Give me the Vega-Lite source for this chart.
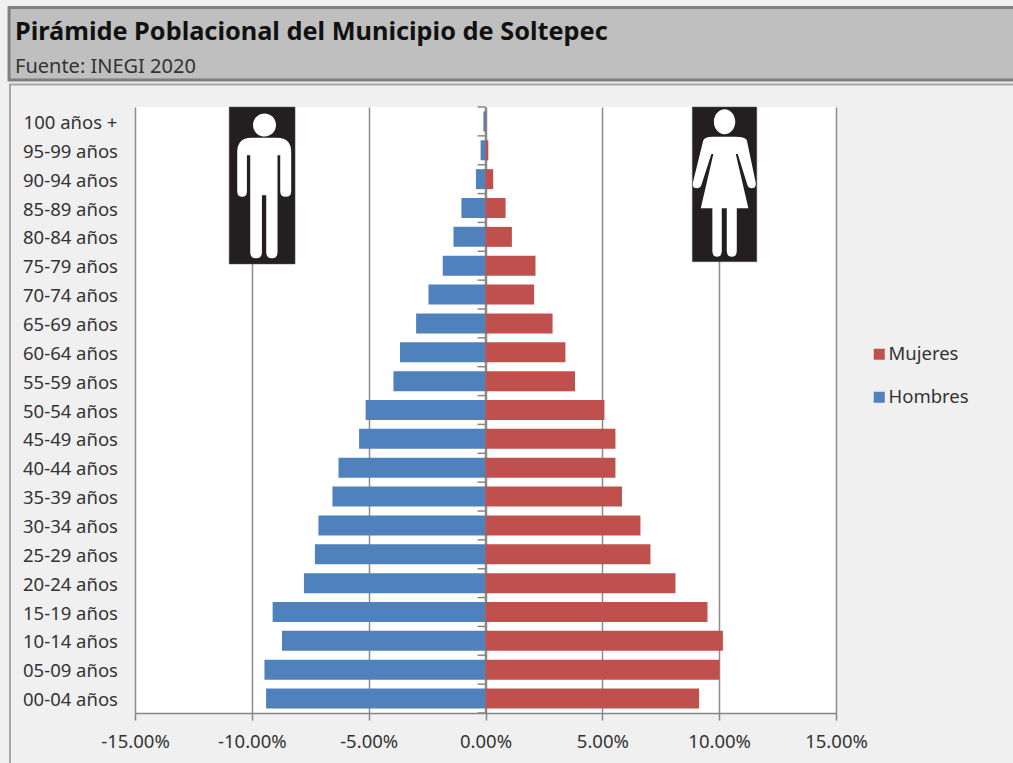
{
"$schema":"https://vega.github.io/schema/vega-lite/v6.json",
"autosize":{"type":"none"},
"padding":{"left":135,"top":107,"right":177,"bottom":50},
"width":701,"height":606,
"background":"#f0f0f0",
"view":{"fill":"#ffffff","stroke":null},
"title":{"text":"Pirámide Poblacional del Municipio de Soltepec","subtitle":"Fuente: INEGI 2020","anchor":"start","frame":"group","dx":-120,"offset":-71,"font":"Noto Sans","fontWeight":"bold","fontSize":25.3,"color":"#111111","subtitleFont":"Noto Sans","subtitleFontSize":20,"subtitleColor":"#333333","subtitlePadding":12},
"datasets":{
"pop":[
{"edad":"100 años +","sexo":"Hombres","valor":-0.0009},{"edad":"100 años +","sexo":"Mujeres","valor":0.0003},
{"edad":"95-99 años","sexo":"Hombres","valor":-0.0021},{"edad":"95-99 años","sexo":"Mujeres","valor":0.0012},
{"edad":"90-94 años","sexo":"Hombres","valor":-0.0041},{"edad":"90-94 años","sexo":"Mujeres","valor":0.0033},
{"edad":"85-89 años","sexo":"Hombres","valor":-0.0103},{"edad":"85-89 años","sexo":"Mujeres","valor":0.0086},
{"edad":"80-84 años","sexo":"Hombres","valor":-0.0137},{"edad":"80-84 años","sexo":"Mujeres","valor":0.0113},
{"edad":"75-79 años","sexo":"Hombres","valor":-0.0183},{"edad":"75-79 años","sexo":"Mujeres","valor":0.0214},
{"edad":"70-74 años","sexo":"Hombres","valor":-0.0244},{"edad":"70-74 años","sexo":"Mujeres","valor":0.0208},
{"edad":"65-69 años","sexo":"Hombres","valor":-0.0297},{"edad":"65-69 años","sexo":"Mujeres","valor":0.0287},
{"edad":"60-64 años","sexo":"Hombres","valor":-0.0366},{"edad":"60-64 años","sexo":"Mujeres","valor":0.0342},
{"edad":"55-59 años","sexo":"Hombres","valor":-0.0394},{"edad":"55-59 años","sexo":"Mujeres","valor":0.0383},
{"edad":"50-54 años","sexo":"Hombres","valor":-0.0513},{"edad":"50-54 años","sexo":"Mujeres","valor":0.0509},
{"edad":"45-49 años","sexo":"Hombres","valor":-0.0541},{"edad":"45-49 años","sexo":"Mujeres","valor":0.0556},
{"edad":"40-44 años","sexo":"Hombres","valor":-0.0629},{"edad":"40-44 años","sexo":"Mujeres","valor":0.0556},
{"edad":"35-39 años","sexo":"Hombres","valor":-0.0655},{"edad":"35-39 años","sexo":"Mujeres","valor":0.0584},
{"edad":"30-34 años","sexo":"Hombres","valor":-0.0715},{"edad":"30-34 años","sexo":"Mujeres","valor":0.0663},
{"edad":"25-29 años","sexo":"Hombres","valor":-0.073},{"edad":"25-29 años","sexo":"Mujeres","valor":0.0706},
{"edad":"20-24 años","sexo":"Hombres","valor":-0.0777},{"edad":"20-24 años","sexo":"Mujeres","valor":0.0813},
{"edad":"15-19 años","sexo":"Hombres","valor":-0.0911},{"edad":"15-19 años","sexo":"Mujeres","valor":0.095},
{"edad":"10-14 años","sexo":"Hombres","valor":-0.0871},{"edad":"10-14 años","sexo":"Mujeres","valor":0.1016},
{"edad":"05-09 años","sexo":"Hombres","valor":-0.0946},{"edad":"05-09 años","sexo":"Mujeres","valor":0.1001},
{"edad":"00-04 años","sexo":"Hombres","valor":-0.0939},{"edad":"00-04 años","sexo":"Mujeres","valor":0.0914}
],
"marcos":[
{"nombre":"banner","x0":-0.2039,"x1":0.2264,"y0":-3.448,"y1":-0.936}
],
"panel":[{"x0":-0.2035,"x1":0.23,"y0":-0.78,"y1":22.97}],
"iconos":[
{"nombre":"hombre","x0":-0.1097,"x1":-0.0815,"y0":0,"y1":5.44},
{"nombre":"mujer","x0":0.0885,"x1":0.1161,"y0":0,"y1":5.36}
],
"eje":[{"x":0,"y0":0,"y1":21}],
"marcas":[{"y":0},{"y":1},{"y":2},{"y":3},{"y":4},{"y":5},{"y":6},{"y":7},{"y":8},{"y":9},{"y":10},{"y":11},{"y":12},{"y":13},{"y":14},{"y":15},{"y":16},{"y":17},{"y":18},{"y":19},{"y":20},{"y":21}]
},
"resolve":{"scale":{"y":"independent"}},
"layer":[
{"data":{"name":"marcos"},"mark":{"type":"rect","fill":"#bfbfbf","stroke":"#7f7f7f","strokeWidth":3,"clip":false},
 "encoding":{"x":{"field":"x0","type":"quantitative","scale":{"domain":[-0.15,0.15],"nice":false},
   "axis":{"title":null,"values":[-0.15,-0.1,-0.05,0,0.05,0.1,0.15],"format":".2%","labelExpr":"replace(datum.label, '−', '-')","grid":true,"gridColor":"#8c8c8c","gridWidth":1.5,"domainColor":"#868686","domainWidth":1.5,"tickColor":"#868686","tickWidth":1.5,"tickSize":7,"labelPadding":12,"labelFont":"Noto Sans","labelFontSize":18.5,"labelColor":"#333333","labelFlush":false}},
  "x2":{"field":"x1"},"y":{"field":"y0","type":"quantitative","scale":{"domain":[0,21],"reverse":true,"nice":false,"zero":false},"axis":null},"y2":{"field":"y1"}}},
{"data":{"name":"panel"},"mark":{"type":"rect","filled":false,"stroke":"#a6a6a6","strokeWidth":2,"clip":false},
 "encoding":{"x":{"field":"x0","type":"quantitative","title":null},"x2":{"field":"x1"},"y":{"field":"y0","type":"quantitative","scale":{"domain":[0,21],"reverse":true,"nice":false,"zero":false},"axis":null},"y2":{"field":"y1"}}},
{"data":{"name":"eje"},"mark":{"type":"rule","color":"#868686","strokeWidth":1.5},
 "encoding":{"x":{"field":"x","type":"quantitative","title":null},"y":{"field":"y0","type":"quantitative","scale":{"domain":[0,21],"reverse":true,"nice":false,"zero":false},"axis":null},"y2":{"field":"y1"}}},
{"data":{"name":"marcas"},"mark":{"type":"rule","color":"#868686","strokeWidth":1.5},
 "encoding":{"x":{"datum":-0.0034,"type":"quantitative","title":null},"x2":{"datum":0},"y":{"field":"y","type":"quantitative","scale":{"domain":[0,21],"reverse":true,"nice":false,"zero":false},"axis":null}}},
{"data":{"name":"pop"},"mark":{"type":"bar","height":20},
 "encoding":{
  "y":{"field":"edad","type":"nominal","sort":null,"scale":{"domain":["100 años +","95-99 años","90-94 años","85-89 años","80-84 años","75-79 años","70-74 años","65-69 años","60-64 años","55-59 años","50-54 años","45-49 años","40-44 años","35-39 años","30-34 años","25-29 años","20-24 años","15-19 años","10-14 años","05-09 años","00-04 años"],"paddingInner":0,"paddingOuter":0},
   "axis":{"title":null,"orient":"left","domain":false,"ticks":false,"grid":false,"labelAlign":"center","labelPadding":65,"labelOffset":1.5,"labelFont":"Noto Sans","labelFontSize":18.5,"labelColor":"#333333"}},
  "x":{"field":"valor","type":"quantitative","stack":null,"title":null},
  "color":{"field":"sexo","type":"nominal","scale":{"domain":["Mujeres","Hombres"],"range":["#c0504d","#4f81bd"]},
   "legend":{"title":null,"orient":"none","legendX":735,"legendY":238,"symbolType":"square","symbolSize":121,"symbolStrokeWidth":0,"labelFont":"Noto Sans","labelFontSize":18.5,"labelColor":"#333333","labelOffset":0,"rowPadding":24}}
 }},
{"data":{"name":"iconos"},"mark":{"type":"rect","fill":"#231f20","stroke":"#555555","strokeWidth":0.5},
 "encoding":{"x":{"field":"x0","type":"quantitative","title":null},"x2":{"field":"x1"},"y":{"field":"y0","type":"quantitative","scale":{"domain":[0,21],"reverse":true,"nice":false,"zero":false},"axis":null},"y2":{"field":"y1"}}},
{"data":{"values":[{"x":-0.0947,"y":2.505}]},"mark":{"type":"point","filled":true,"fill":"#ffffff","opacity":1,"size":4,"strokeWidth":0,"shape":"M-27,-27 Q-27,-41.5 -13,-41.5 L13,-41.5 Q27,-41.5 27,-27 L27,12 Q27,17.5 21.5,17.5 Q16,17.5 16,12 L16,-24 L13.3,-24 L13.3,73 Q13.3,79 7.7,79 Q2,79 2,73 L2,16 L-2.3,16 L-2.3,73 Q-2.3,79 -8,79 Q-14,79 -14,73 L-14,-24 L-17.3,-24 L-17.3,12 Q-17.3,17.5 -22,17.5 Q-27,17.5 -27,12 Z M-11.2,-54.3 A11.5,11.5 0 1 1 11.8,-54.3 A11.5,11.5 0 1 1 -11.2,-54.3 Z"},
 "encoding":{"x":{"field":"x","type":"quantitative","title":null},"y":{"field":"y","type":"quantitative","scale":{"domain":[0,21],"reverse":true,"nice":false,"zero":false},"axis":null}}},
{"data":{"values":[{"x":0.1021,"y":2.505}]},"mark":{"type":"point","filled":true,"fill":"#ffffff","opacity":1,"size":4,"strokeWidth":0,"shape":"M-12,-42.6 L12,-42.6 Q20,-42.6 22.7,-39.3 L31.7,3.7 Q32,9 27.7,9 Q24.5,9 23.3,5.7 L13.7,-25.3 L11.7,-25.3 L24.3,29 L12.7,29 L12.7,72 Q12.7,77.4 7.7,77.4 Q2.7,77.4 2.7,72 L2.7,29 L-2.3,29 L-2.3,72 Q-2.3,77.4 -7,77.4 Q-11.7,77.4 -11.7,72 L-11.7,29 L-23.3,29 L-10.7,-25.3 L-12.7,-25.3 L-22.7,5.7 Q-24,9 -27.3,9 Q-32,9 -31.3,3.7 L-20.7,-39.3 Q-18,-42.6 -12,-42.6 Z M-10.2,-57.6 A10.7,12.5 0 1 1 11.2,-57.6 A10.7,12.5 0 1 1 -10.2,-57.6 Z"},
 "encoding":{"x":{"field":"x","type":"quantitative","title":null},"y":{"field":"y","type":"quantitative","scale":{"domain":[0,21],"reverse":true,"nice":false,"zero":false},"axis":null}}}
]
}
